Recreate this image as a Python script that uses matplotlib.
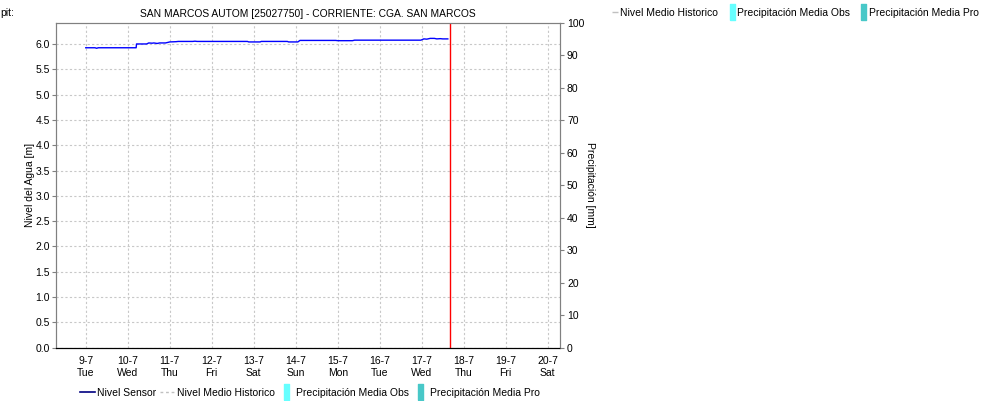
import matplotlib
matplotlib.use("Agg")
import matplotlib.pyplot as plt
import pandas as pd
from matplotlib.lines import Line2D

plt.rcParams['font.family'] = ['Liberation Sans', 'DejaVu Sans']
plt.rcParams['font.size'] = 7.5

# sensor level, hours after 2024-07-09 00:00
hours = [0.0, 5.3, 6.2, 7.2, 28.8, 29.0, 34.8, 36.0, 37.9, 38.9, 40.8, 42.2,
         45.6, 46.8, 48.0, 51.6, 52.8, 61.2, 62.4, 63.6, 92.4, 93.1, 99.6,
         100.3, 115.2, 115.9, 121.2, 122.4, 142.8, 144.0, 152.4, 153.6,
         191.5, 193.2, 194.9, 196.8, 199.2, 200.6, 202.6, 204.0, 206.9]
nivel = [5.925, 5.925, 5.915, 5.925, 5.925, 6.0, 6.0, 6.02, 6.015, 6.02, 6.01, 6.02,
         6.02, 6.03, 6.04, 6.045, 6.05, 6.05, 6.055, 6.05, 6.05, 6.04, 6.04,
         6.05, 6.05, 6.04, 6.04, 6.07, 6.07, 6.065, 6.065, 6.075,
         6.075, 6.10, 6.095, 6.11, 6.11, 6.10, 6.105, 6.10, 6.10]

start = pd.Timestamp("2024-07-09")
now_line = pd.Timestamp("2024-07-17 16:00")
tick_days = pd.date_range("2024-07-09", "2024-07-20", freq="D")
tick_labels = ["9-7\nTue", "10-7\nWed", "11-7\nThu", "12-7\nFri", "13-7\nSat", "14-7\nSun",
               "15-7\nMon", "16-7\nTue", "17-7\nWed", "18-7\nThu", "19-7\nFri", "20-7\nSat"]
title = "SAN MARCOS AUTOM [25027750] - CORRIENTE: CGA. SAN MARCOS"

times = [start + pd.Timedelta(hours=h) for h in hours]

fig = plt.figure(figsize=(9.87, 4.01), dpi=100)
ax = fig.add_axes([56 / 987, 1 - 347.7 / 401, 504 / 987, 325 / 401])
ax2 = ax.twinx()

ax.plot(times, nivel, color="#0000ff", lw=1.0)
ax.axvline(now_line, color="#ff0000", lw=1.0)

ax.set_xlim(pd.Timestamp("2024-07-08 07:00"), pd.Timestamp("2024-07-20 07:00"))
ax.set_ylim(0, 6.42)
ax.set_yticks([i * 0.5 for i in range(13)])
ax.yaxis.set_major_formatter(matplotlib.ticker.FormatStrFormatter("%.1f"))
ax.set_xticks(tick_days)
ax.set_xticklabels(tick_labels, linespacing=1.3)
ax.tick_params(axis="x", length=0, pad=6)
ax.tick_params(axis="y", length=3, color="#808080", pad=1.5)
ax.grid(True, color="#c8c8c8", linestyle=(0, (2, 2)), lw=0.8)
ax.set_ylabel("Nivel del Agua [m]")
ax.yaxis.set_label_coords(-0.042, 0.5)
ax.set_title(title, fontsize=7.4, pad=4)

ax2.set_ylim(0, 100)
ax2.set_yticks(range(0, 101, 10))
ax2.tick_params(axis="y", length=3, color="#808080", pad=2)
ax2.set_ylabel("Precipitación [mm]", rotation=270, labelpad=8)

for a in (ax, ax2):
    for s in ("left", "right", "top"):
        a.spines[s].set_color("#808080")
    a.spines["bottom"].set_linestyle((0, (1, 1)))
    a.spines["bottom"].set_color("#000000")

rect = [(-0.3, -1), (0.3, -1), (0.3, 1), (-0.3, 1), (-0.3, -1)]
h_sensor = Line2D([], [], color="#000080", lw=1.2)
h_hist = Line2D([], [], color="#c0c0c0", lw=1.0, linestyle=(0, (2, 2)))
h_obs = Line2D([], [], color="#66ffff", marker=rect, markersize=12, linestyle="none")
h_pro = Line2D([], [], color="#48c8c8", marker=rect, markersize=12, linestyle="none")
labels = ["Nivel Sensor", "Nivel Medio Historico", "Precipitación Media Obs", "Precipitación Media Pro"]

fig.legend([h_sensor, h_hist, h_obs, h_pro], labels, loc="center", bbox_to_anchor=(310 / 987, 1 - 393 / 401),
           ncol=4, frameon=False, handlelength=1.4, handletextpad=0.2, columnspacing=0.4,
           borderpad=0, borderaxespad=0)

h_dash = Line2D([], [], color="#c0c0c0", marker="_", markersize=4, linestyle="none")
fig.legend([h_dash, h_obs, h_pro], labels[1:], loc="center left", bbox_to_anchor=(612 / 987, 1 - 13 / 401),
           ncol=3, frameon=False, handlelength=0.6, handletextpad=0.2, columnspacing=1.0,
           borderpad=0, borderaxespad=0)

fig.text(0, 1 - 13 / 401, "pit:", va="center", ha="left")

fig.savefig("out.png", dpi=100)
